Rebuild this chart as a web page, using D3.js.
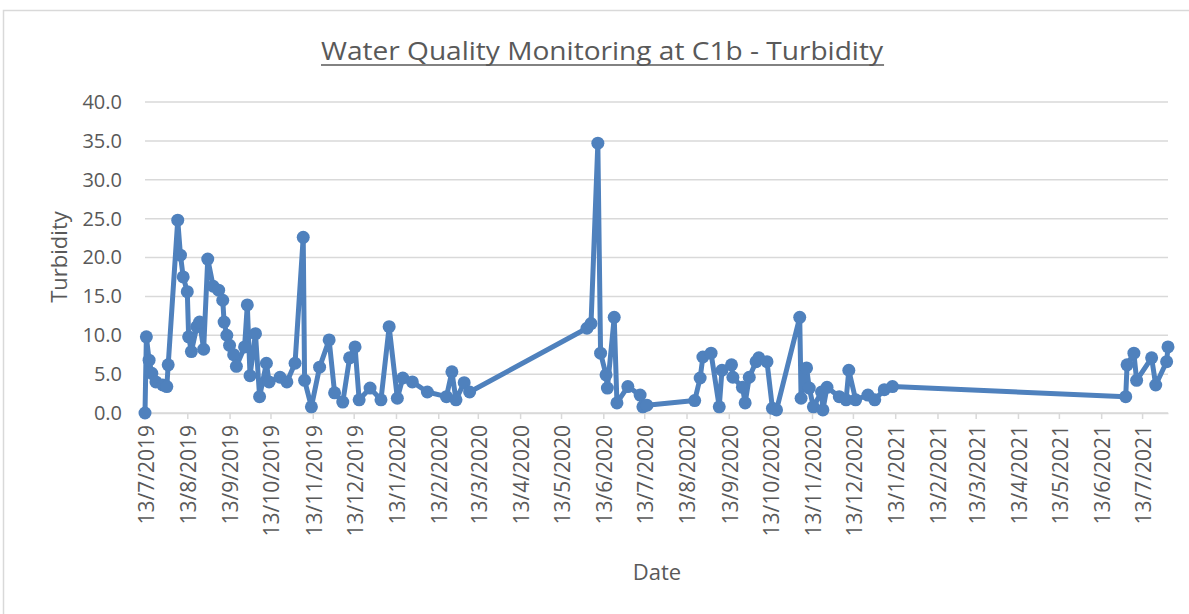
<!DOCTYPE html>
<html>
<head>
<meta charset="utf-8">
<script src="https://cdnjs.cloudflare.com/ajax/libs/d3/7.8.5/d3.min.js"></script>
<style>
  body { margin: 0; background: #fff; }
  text { font-family: "Open Sans", Lato, sans-serif; fill: #595959; }
</style>
</head>
<body>
<div id="chart"></div>
<script>
// sample dates and turbidity readings
var sampleDates = [
  "2019-07-13","2019-07-14","2019-07-16","2019-07-18","2019-07-21","2019-07-26","2019-07-29","2019-07-30",
  "2019-08-06","2019-08-08","2019-08-10","2019-08-13","2019-08-14","2019-08-16","2019-08-20","2019-08-22",
  "2019-08-25","2019-08-28","2019-09-01","2019-09-05","2019-09-08","2019-09-09","2019-09-11","2019-09-13",
  "2019-09-16","2019-09-18","2019-09-24","2019-09-26","2019-09-28","2019-10-02","2019-10-05","2019-10-10",
  "2019-10-12","2019-10-20","2019-10-25","2019-10-31","2019-11-06","2019-11-07","2019-11-12","2019-11-18",
  "2019-11-25","2019-11-29","2019-12-05","2019-12-10","2019-12-14","2019-12-17","2019-12-25","2020-01-02",
  "2020-01-08","2020-01-14","2020-01-18","2020-01-25","2020-02-05","2020-02-19","2020-02-23","2020-02-26",
  "2020-03-03","2020-03-07",
  "2020-06-01","2020-06-04","2020-06-09","2020-06-11","2020-06-15","2020-06-16","2020-06-21","2020-06-23",
  "2020-07-01","2020-07-10","2020-07-12","2020-07-15",
  "2020-08-19","2020-08-23","2020-08-25","2020-08-31","2020-09-06","2020-09-08","2020-09-15","2020-09-16",
  "2020-09-23","2020-09-25","2020-09-28","2020-10-03","2020-10-05","2020-10-11","2020-10-15","2020-10-18",
  "2020-11-04","2020-11-05","2020-11-09","2020-11-11","2020-11-14","2020-11-20","2020-11-21","2020-11-24",
  "2020-12-03","2020-12-08","2020-12-10","2020-12-15","2020-12-24","2020-12-29","2021-01-05","2021-01-11",
  "2021-07-01","2021-07-02","2021-07-07","2021-07-09","2021-07-20","2021-07-23","2021-07-31","2021-08-01"
];
var turbidity = [
  0.0, 9.8, 6.8, 5.1, 4.0, 3.6, 3.4, 6.2,
  24.8, 20.3, 17.5, 15.6, 9.8, 7.9, 11.1, 11.7,
  8.2, 19.8, 16.3, 15.8, 14.5, 11.7, 10.0, 8.7,
  7.5, 6.0, 8.5, 13.9, 4.8, 10.2, 2.1, 6.4,
  4.0, 4.6, 4.0, 6.4, 22.6, 4.2, 0.8, 5.9,
  9.4, 2.6, 1.4, 7.1, 8.5, 1.7, 3.2, 1.7,
  11.1, 1.9, 4.5, 4.0, 2.7, 2.1, 5.3, 1.7,
  3.9, 2.7,
  10.9, 11.5, 34.7, 7.7, 4.9, 3.2, 12.3, 1.3,
  3.4, 2.3, 0.8, 1.0,
  1.6, 4.5, 7.2, 7.7, 0.8, 5.5, 6.2, 4.6,
  3.3, 1.3, 4.6, 6.6, 7.1, 6.6, 0.6, 0.4,
  12.3, 1.9, 5.8, 3.2, 0.8, 2.7, 0.4, 3.3,
  2.1, 1.7, 5.5, 1.7, 2.3, 1.7, 3.0, 3.4,
  2.1, 6.2, 7.7, 4.2, 7.1, 3.6, 6.6, 8.5
];
var yTicks = [0, 5, 10, 15, 20, 25, 30, 35, 40];
var axisStart = "2019-07-13", axisEnd = "2021-08-01";
var tickCount = 25; // monthly ticks on the 13th

var parseDate = d3.utcParse("%Y-%m-%d");
var fmtDate = d3.utcFormat("%-d/%-m/%Y");

var data = sampleDates.map(function(d, i) {
  return { date: parseDate(d), value: turbidity[i] };
});

var width = 1189, height = 614;
var margin = { top: 102, right: 21, bottom: 201, left: 145 };
var w = width - margin.left - margin.right,
    h = height - margin.top - margin.bottom;

var svg = d3.select("#chart").append("svg")
    .attr("width", width)
    .attr("height", height);

// chart frame
svg.append("rect")
    .attr("x", 3.5).attr("y", 10.5)
    .attr("width", width + 10).attr("height", height + 10)
    .attr("fill", "#fff")
    .attr("stroke", "#d9d9d9")
    .attr("stroke-width", 1.5);

var g = svg.append("g")
    .attr("transform", "translate(" + margin.left + "," + margin.top + ")");

var x = d3.scaleUtc()
    .domain([parseDate(axisStart), parseDate(axisEnd)])
    .range([0, w]);

var y = d3.scaleLinear()
    .domain([0, 40])
    .range([h, 0]);

var xTickVals = d3.range(tickCount).map(function(i) {
  return d3.utcMonth.offset(parseDate(axisStart), i);
});

// gridlines
g.append("g")
    .selectAll("line")
    .data(yTicks)
    .enter().append("line")
    .attr("x1", 0).attr("x2", w)
    .attr("y1", function(d) { return y(d); })
    .attr("y2", function(d) { return y(d); })
    .attr("stroke", "#d9d9d9")
    .attr("stroke-width", 1.5);

// y axis labels
var yAxis = d3.axisLeft(y)
    .tickValues(yTicks)
    .tickFormat(d3.format(".1f"))
    .tickSize(0)
    .tickPadding(23);

g.append("g")
    .attr("class", "y-axis")
    .call(yAxis)
    .call(function(s) { s.select(".domain").remove(); })
    .selectAll("text")
    .style("font-family", "'Open Sans', sans-serif")
    .style("font-size", "20px")
    .style("fill", "#595959");

// x axis with date ticks
var xAxis = d3.axisBottom(x)
    .tickValues(xTickVals)
    .tickFormat(fmtDate)
    .tickSize(6)
    .tickSizeOuter(0);

var xg = g.append("g")
    .attr("class", "x-axis")
    .attr("transform", "translate(0," + h + ")")
    .call(xAxis);

xg.select(".domain").attr("stroke", "#d9d9d9").attr("stroke-width", 1.5);
xg.selectAll(".tick line").attr("stroke", "#d9d9d9").attr("stroke-width", 1.5);
xg.selectAll(".tick text")
    .style("font-family", "'Open Sans', sans-serif")
    .style("font-size", "21px")
    .style("fill", "#595959")
    .attr("text-anchor", "end")
    .attr("dy", "0.35em")
    .attr("transform", "translate(1,12) rotate(-90)")
    .attr("x", 0)
    .attr("y", 0);

// line and markers
var line = d3.line()
    .x(function(d) { return x(d.date); })
    .y(function(d) { return y(d.value); });

g.append("path")
    .datum(data)
    .attr("d", line)
    .attr("fill", "none")
    .attr("stroke", "#4f81bd")
    .attr("stroke-width", 5)
    .attr("stroke-linejoin", "round");

g.selectAll(".dot")
    .data(data)
    .enter().append("circle")
    .attr("class", "dot")
    .attr("cx", function(d) { return x(d.date); })
    .attr("cy", function(d) { return y(d.value); })
    .attr("r", 6.5)
    .attr("fill", "#4f81bd");

// titles
var title = svg.append("text")
    .attr("x", 602)
    .attr("y", 60)
    .attr("text-anchor", "middle")
    .attr("textLength", 562)
    .attr("lengthAdjust", "spacingAndGlyphs")
    .style("font-size", "26px")
    .text("Water Quality Monitoring at C1b - Turbidity");

// continuous underline under the title
var tb = title.node().getBBox();
svg.append("line")
    .attr("x1", tb.x).attr("x2", tb.x + tb.width)
    .attr("y1", 65).attr("y2", 65)
    .attr("stroke", "#595959")
    .attr("stroke-width", 1.5);

svg.append("text")
    .attr("transform", "translate(67,257) rotate(-90)")
    .attr("text-anchor", "middle")
    .style("font-size", "22px")
    .text("Turbidity");

svg.append("text")
    .attr("x", 657)
    .attr("y", 580)
    .attr("text-anchor", "middle")
    .style("font-size", "22px")
    .text("Date");
</script>
</body>
</html>
